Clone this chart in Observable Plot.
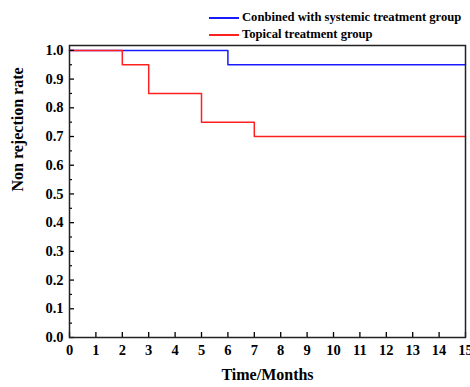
<!DOCTYPE html>
<html><head><meta charset="utf-8">
<script src="https://cdn.jsdelivr.net/npm/d3@7"></script>
<script src="https://cdn.jsdelivr.net/npm/@observablehq/plot@0.6"></script>
<style>
body{margin:0;background:#fff;font-family:"Liberation Serif","Times New Roman",serif;}
#wrap{position:relative;width:470px;height:387px;}
#legend{position:absolute;left:209px;top:9px;font-weight:bold;font-size:12.6px;line-height:17px;color:#000;}
#legend div{display:flex;align-items:center;white-space:nowrap;}
#legend span.sw{display:inline-block;width:30px;height:0;border-top:2px solid;margin-right:3px;}
</style></head>
<body><div id="wrap"><div id="legend"></div></div>
<script>
const seriesNames = ["Conbined with systemic treatment group", "Topical treatment group"];
const seriesColors = ["#1a1aff", "#ff2020"];
const blueTime = [0, 6, 15];
const blueRate = [1.0, 0.95, 0.95];
const redTime = [0, 2, 3, 5, 7, 15];
const redRate = [1.0, 0.95, 0.85, 0.75, 0.70, 0.70];
const xTicks = d3.range(0, 16, 1);
const yTicks = d3.range(0, 11, 1).map(d => d / 10);
const yMinor = d3.range(0, 10, 1).map(d => d / 10 + 0.05);

const data = [
  ...blueTime.map((t, i) => ({t, r: blueRate[i], s: seriesNames[0]})),
  ...redTime.map((t, i) => ({t, r: redRate[i], s: seriesNames[1]}))
];

const plot = Plot.plot({
  width: 470, height: 387,
  marginLeft: 69, marginRight: 5, marginTop: 45, marginBottom: 50,
  style: {fontFamily: '"Liberation Serif","Times New Roman",serif', fontWeight: "bold", fontSize: "14px", color: "#000", background: "#fff"},
  x: {domain: [0, 15]},
  y: {domain: [0, 1.017]},
  color: {domain: seriesNames, range: seriesColors},
  marks: [
    Plot.line(data, {x: "t", y: "r", z: "s", stroke: "s", curve: "step-after", strokeWidth: 1.5}),
    Plot.axisX({ticks: xTicks, tickSize: -5, tickPadding: 12, tickFormat: d => d, strokeWidth: 1.3, label: null, fontSize: 14.5}),
    Plot.axisY({ticks: yTicks, tickSize: -5, tickPadding: 11, tickFormat: d3.format(".1f"), strokeWidth: 1.3, label: null, fontSize: 14.5}),
    Plot.axisY({ticks: yMinor, tickSize: -3, tickFormat: () => "", strokeWidth: 1.2, label: null}),
    Plot.frame({stroke: "#222", strokeWidth: 1.5}),
    Plot.text(["Time/Months"], {frameAnchor: "bottom", dy: 42, fontSize: 16, fontWeight: "bold"}),
    Plot.text(["Non rejection rate"], {frameAnchor: "left", dx: -52, rotate: -90, fontSize: 16, fontWeight: "bold"})
  ]
});
document.getElementById("wrap").prepend(plot);
const lg = document.getElementById("legend");
seriesNames.forEach((n, i) => {
  const d = document.createElement("div");
  d.innerHTML = `<span class="sw" style="border-color:${seriesColors[i]}"></span>${n}`;
  lg.appendChild(d);
});
</script></body></html>
